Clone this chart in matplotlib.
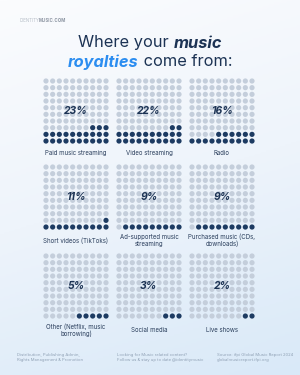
import numpy as np
import matplotlib.pyplot as plt
from matplotlib.colors import LinearSegmentedColormap

# dados
categorias = ["Paid music streaming", "Video streaming", "Radio",
              "Short videos (TikToks)", "Ad-supported music\nstreaming", "Purchased music (CDs,\ndownloads)",
              "Other (Netflix, music\nborrowing)", "Social media", "Live shows"]
percentuais = [23, 22, 16, 11, 9, 9, 5, 3, 2]
rodape = ["Distribution, Publishing Admin,\nRights Management & Promotion",
          "Looking for Music related content?\nFollow us & stay up to date @identitymusic",
          "Source: ifpi Global Music Report 2024\nglobalmusicreport.ifpi.org"]

# cores
escuro = "#1d3b62"
claro = "#c4cedb"
azul = "#2b8df0"
texto = "#1c3354"

plt.rcParams['font.family'] = ['Inter', 'DejaVu Sans']

fig = plt.figure(figsize=(3, 3.75), dpi=100)
ax = fig.add_axes([0, 0, 1, 1])
ax.set_xlim(0, 300)
ax.set_ylim(375, 0)
ax.axis("off")

# fundo em degradê
cmap = LinearSegmentedColormap.from_list("bg", ["#fbfcfe", "#eef4fb", "#d9e9f8"])
yy, xx = np.mgrid[0:1:200j, 0:1:160j]
grad = 0.8 * yy + 0.2 * xx
ax.imshow(grad, extent=[0, 300, 375, 0], cmap=cmap, aspect="auto", zorder=0)

# logo
ax.text(20, 20, "IDENTITY", fontsize=3.2, color="#b5bcc6", va="center", ha="left")
ax.text(38.5, 20, "MUSIC.COM", fontsize=3.2, color="#8d96a3", weight="bold", va="center", ha="left")

# título com estilos mistos
r = fig.canvas.get_renderer()


def linha(partes, y, fs):
    objs = []
    for s, cor, peso, estilo in partes:
        t = ax.text(0, y, s, fontsize=fs, color=cor, weight=peso, style=estilo, va="center", ha="left")
        objs.append(t)
    larg = [t.get_window_extent(r).width for t in objs]
    x = 150 - sum(larg) / 2
    for t, w in zip(objs, larg):
        t.set_x(x)
        x += w


linha([("Where your ", texto, "normal", "normal"), ("music", texto, "bold", "italic")], 43, 11.8)
linha([("royalties", azul, "bold", "italic"), (" come from:", texto, "normal", "normal")], 62, 11.8)

# grades de pontos
cx = [76, 149, 222]
topo = [81, 167, 256]
passo = 6.67
label_y = [153, 240.5, 330]

for i, (cat, p) in enumerate(zip(categorias, percentuais)):
    col, lin = i % 3, i // 3
    xs, ys, cs = [], [], []
    for k in range(100):
        rr = k // 10  # linha a partir de baixo
        cc = k % 10   # coluna a partir da direita
        xs.append(cx[col] + (4.5 - cc) * passo)
        ys.append(topo[lin] + (9 - rr) * passo)
        cs.append(escuro if k < p else claro)
    ax.scatter(xs, ys, s=14, c=cs, linewidths=0, zorder=2)
    ax.text(cx[col], topo[lin] + 4.5 * passo, f"{p}%", fontsize=7.5, weight="bold", style="italic",
            color=texto, ha="center", va="center", zorder=3)
    ax.text(cx[col], label_y[lin], cat, fontsize=4.4, color="#2a3e5c", ha="center", va="center",
            linespacing=1.1, zorder=3)

# rodapé
for j, s in enumerate(rodape):
    ax.text(17 + 100 * j, 357.5, s, fontsize=3.0, color="#8fa0b4", ha="left", va="center", linespacing=1.3)

fig.savefig("out.png", dpi=100)
